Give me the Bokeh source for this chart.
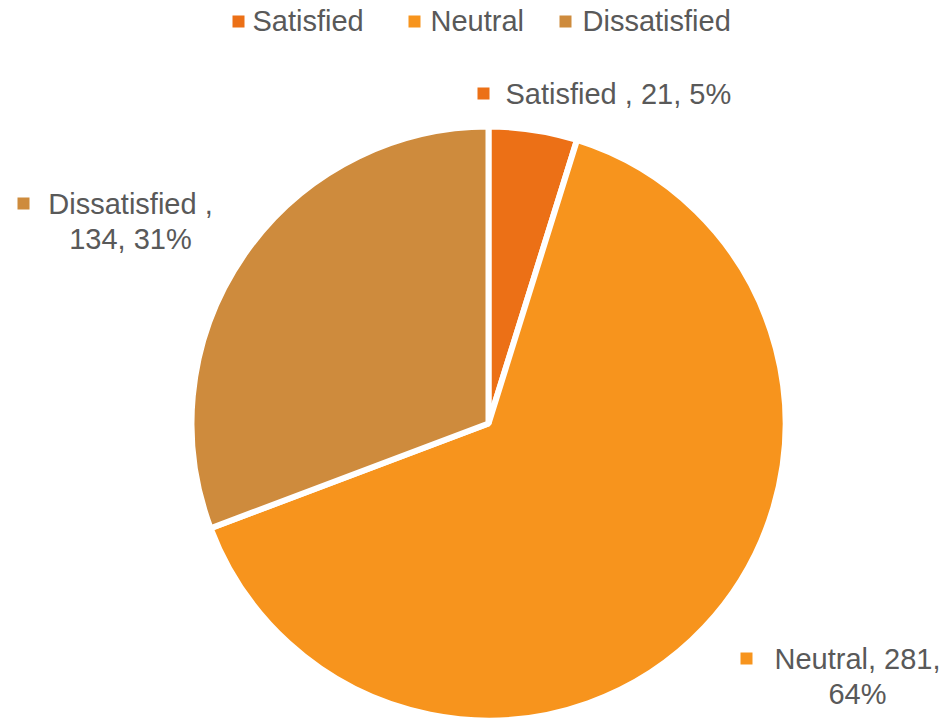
import math
from bokeh.plotting import figure
from bokeh.models import Range1d, ColumnDataSource
from bokeh.core.properties import value
from bokeh.embed import file_html
from bokeh.resources import INLINE

# ---- data ----
categories = ["Satisfied", "Neutral", "Dissatisfied"]
counts = [21, 281, 134]
colors = ["#EC7016", "#F7941D", "#CE8B3D"]

total = sum(counts)
pcts = [round(100 * c / total) for c in counts]
label_texts = [
    f"{categories[0]} , {counts[0]}, {pcts[0]}%",
    f"{categories[1]}, {counts[1]},\n{pcts[1]}%",
    f"{categories[2]} ,\n{counts[2]}, {pcts[2]}%",
]

W, H = 952, 721
FONT = value("Liberation Sans")
TXT = "#595959"

p = figure(width=W, height=H, output_backend="svg", toolbar_location=None,
           x_range=Range1d(0, W), y_range=Range1d(721 - H, 721),
           min_border=0)
p.axis.visible = False
p.grid.visible = False
p.outline_line_color = None

def Y(sy):
    return 721 - sy

# ---- pie ----
cx, cy, r = 488, Y(423), 297
starts, ends = [], []
cum = 0
for c in counts:
    starts.append(math.pi / 2 - 2 * math.pi * cum / total)
    cum += c
    ends.append(math.pi / 2 - 2 * math.pi * cum / total)
src = ColumnDataSource(dict(cat=categories, start=starts, end=ends, color=colors))
p.wedge(x=cx, y=cy, radius=r, start_angle="start", end_angle="end",
        direction="clock", fill_color="color", line_color="white",
        line_width=6, source=src)

# ---- legend (top) ----
leg_sq_x = [238, 414, 565]
leg_tx_x = [252, 430, 582]
p.scatter(x=leg_sq_x, y=[Y(21)] * 3, marker="square", size=12,
          fill_color=colors, line_color=None)
p.text(x=leg_tx_x, y=[Y(20)] * 3, text=categories, text_font=FONT,
       text_font_size="29px", text_color=TXT, text_align="left",
       text_baseline="middle")

# ---- data labels ----
lab_sq_x = [483, 746, 23]
lab_sq_y = [Y(93), Y(658), Y(203)]
p.scatter(x=lab_sq_x, y=lab_sq_y, marker="square", size=12,
          fill_color=colors, line_color=None)
lab_x = [505, 857, 130]
lab_y = [Y(93), Y(676), Y(221)]
lab_align = ["left", "center", "center"]
p.text(x=lab_x, y=lab_y, text=label_texts, text_font=FONT,
       text_font_size="29px", text_color=TXT, text_align=lab_align,
       text_baseline="middle", text_line_height=1.12)

open("out.html", "w").write(file_html(p, INLINE))
